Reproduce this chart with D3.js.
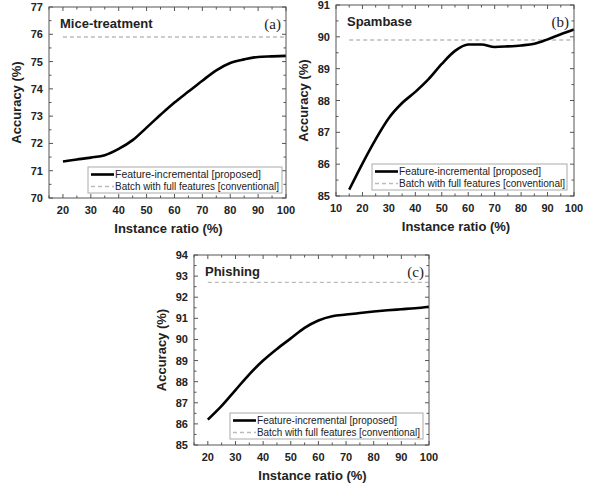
<!DOCTYPE html>
<html>
<head>
<meta charset="utf-8">
<script src="https://cdn.jsdelivr.net/npm/d3@7"></script>
<style>
  body { margin: 0; background: #fff; }
  svg text { font-family: Arial, "Liberation Sans", sans-serif; }
</style>
</head>
<body>
<svg id="chart" width="592" height="484"></svg>
<script>
// (a) Mice-treatment
var miceRatio = [20, 25, 30, 35, 40, 45, 50, 55, 60, 65, 70, 75, 80, 85, 90, 95, 100];
var miceAcc = [71.34, 71.41, 71.48, 71.57, 71.8, 72.12, 72.58, 73.05, 73.5, 73.9, 74.3, 74.68, 74.95, 75.08, 75.17, 75.19, 75.21];
var miceBatch = 75.9;

// (b) Spambase
var spamRatio = [15, 20, 25, 30, 35, 40, 45, 50, 55, 60, 65, 70, 75, 80, 85, 90, 95, 100];
var spamAcc = [85.2, 86.02, 86.78, 87.45, 87.92, 88.27, 88.67, 89.15, 89.56, 89.76, 89.76, 89.68, 89.7, 89.73, 89.78, 89.92, 90.08, 90.23];
var spamBatch = 89.9;

// (c) Phishing
var phishRatio = [20, 25, 30, 35, 40, 45, 50, 55, 60, 65, 70, 75, 80, 85, 90, 95, 100];
var phishAcc = [86.2, 86.85, 87.6, 88.35, 89.0, 89.55, 90.05, 90.55, 90.9, 91.1, 91.18, 91.25, 91.32, 91.38, 91.43, 91.48, 91.55];
var phishBatch = 92.7;

var xTicksA = [20, 30, 40, 50, 60, 70, 80, 90, 100];
var xTicksB = [10, 20, 30, 40, 50, 60, 70, 80, 90, 100];
var legendLabels = ["Feature-incremental [proposed]", "Batch with full features [conventional]"];

var svg = d3.select("#chart");

function drawPanel(p) {
    var x = d3.scaleLinear().domain(p.xDomain).range([p.left, p.right]);
    var y = d3.scaleLinear().domain(p.yDomain).range([p.bottom, p.top]);
    var g = svg.append("g");

    var yMajor = d3.range(p.yDomain[0], p.yDomain[1] + 0.01, 1);
    var yMinor = d3.range(p.yDomain[0] + 0.5, p.yDomain[1], 1);
    var xMinor = d3.range(p.xDomain[0], p.xDomain[1] + 0.01, 5);

    // ticks, inward, on all four sides
    var tk = g.append("g").attr("stroke", "#555").attr("stroke-width", 1);
    xMinor.forEach(function(v) {
        var len = (v % 10 === 0) ? 4 : 2.5;
        tk.append("line").attr("x1", x(v)).attr("x2", x(v)).attr("y1", p.bottom).attr("y2", p.bottom - len);
        tk.append("line").attr("x1", x(v)).attr("x2", x(v)).attr("y1", p.top).attr("y2", p.top + len);
    });
    yMajor.concat(yMinor).forEach(function(v) {
        var len = (Math.abs(v % 1) < 0.01) ? 4 : 2.5;
        tk.append("line").attr("x1", p.left).attr("x2", p.left + len).attr("y1", y(v)).attr("y2", y(v));
        tk.append("line").attr("x1", p.right).attr("x2", p.right - len).attr("y1", y(v)).attr("y2", y(v));
    });

    // tick labels
    g.selectAll(".yl").data(yMajor).enter().append("text")
        .attr("x", p.left - 6).attr("y", function(d) { return y(d) + 4; })
        .attr("text-anchor", "end").attr("font-size", 11).attr("font-weight", "bold")
        .attr("fill", "#222").text(function(d) { return d; });
    g.selectAll(".xl").data(p.xTicks).enter().append("text")
        .attr("x", function(d) { return x(d); }).attr("y", p.bottom + 16)
        .attr("text-anchor", "middle").attr("font-size", 11).attr("font-weight", "bold")
        .attr("fill", "#222").text(function(d) { return d; });

    // axis titles
    g.append("text")
        .attr("transform", "translate(" + (p.left - 28) + "," + ((p.top + p.bottom) / 2) + ") rotate(-90)")
        .attr("text-anchor", "middle").attr("font-size", 13).attr("font-weight", "bold")
        .attr("fill", "#222").text("Accuracy (%)");
    g.append("text")
        .attr("x", (p.left + p.right) / 2 + 1).attr("y", p.bottom + 35)
        .attr("text-anchor", "middle").attr("font-size", 13).attr("font-weight", "bold")
        .attr("fill", "#222").text("Instance ratio (%)");

    // batch (dashed) line
    g.append("line")
        .attr("x1", x(p.ratio[0])).attr("x2", x(100))
        .attr("y1", y(p.batch)).attr("y2", y(p.batch))
        .attr("stroke", "#bbb").attr("stroke-width", 1.3).attr("stroke-dasharray", "4,3");

    // proposed curve
    var line = d3.line()
        .x(function(d, i) { return x(p.ratio[i]); })
        .y(function(d) { return y(d); })
        .curve(d3.curveMonotoneX);
    g.append("path").datum(p.acc)
        .attr("d", line).attr("fill", "none")
        .attr("stroke", "#000").attr("stroke-width", 2.6);

    // frame
    g.append("rect")
        .attr("x", p.left).attr("y", p.top)
        .attr("width", p.right - p.left).attr("height", p.bottom - p.top)
        .attr("fill", "none").attr("stroke", "#555").attr("stroke-width", 1);

    // panel name and letter
    g.append("text").attr("x", p.left + 11).attr("y", p.top + 21)
        .attr("font-size", 13).attr("font-weight", "bold").attr("fill", "#222").text(p.name);
    g.append("text").attr("x", p.right - 5).attr("y", p.top + 22)
        .attr("text-anchor", "end").attr("font-size", 15)
        .attr("style", "font-family: 'Liberation Serif', 'Times New Roman', serif")
        .attr("fill", "#222").text(p.letter);

    // legend
    var lg = g.append("g");
    lg.append("rect").attr("x", p.legX).attr("y", p.legY)
        .attr("width", p.legW).attr("height", 26)
        .attr("fill", "#fff").attr("stroke", "#aaa").attr("stroke-width", 1);
    lg.append("line").attr("x1", p.legX + 3).attr("x2", p.legX + 26)
        .attr("y1", p.legY + 7.5).attr("y2", p.legY + 7.5)
        .attr("stroke", "#000").attr("stroke-width", 2.6);
    lg.append("line").attr("x1", p.legX + 3).attr("x2", p.legX + 26)
        .attr("y1", p.legY + 19.5).attr("y2", p.legY + 19.5)
        .attr("stroke", "#bbb").attr("stroke-width", 1.3).attr("stroke-dasharray", "4,3");
    lg.selectAll(".lt").data(legendLabels).enter().append("text")
        .attr("x", p.legX + 27).attr("y", function(d, i) { return p.legY + 11 + i * 12; })
        .attr("font-size", 10).attr("fill", "#222")
        .attr("textLength", function(d, i) { return p.textW[i]; })
        .attr("lengthAdjust", "spacingAndGlyphs")
        .text(function(d) { return d; });
}

drawPanel({
    name: "Mice-treatment", letter: "(a)",
    ratio: miceRatio, acc: miceAcc, batch: miceBatch,
    xDomain: [15, 100], yDomain: [70, 77], xTicks: xTicksA,
    left: 49, right: 286, top: 7, bottom: 198,
    legX: 88, legY: 167, legW: 194, textW: [146, 164]
});
drawPanel({
    name: "Spambase", letter: "(b)",
    ratio: spamRatio, acc: spamAcc, batch: spamBatch,
    xDomain: [10, 100], yDomain: [85, 91], xTicks: xTicksB,
    left: 336, right: 574, top: 5, bottom: 196,
    legX: 372, legY: 164, legW: 195, textW: [142, 166]
});
drawPanel({
    name: "Phishing", letter: "(c)",
    ratio: phishRatio, acc: phishAcc, batch: phishBatch,
    xDomain: [15, 100], yDomain: [85, 94], xTicks: xTicksA,
    left: 194, right: 429, top: 255, bottom: 445,
    legX: 230, legY: 413, legW: 193, textW: [140, 163]
});
</script>
</body>
</html>
